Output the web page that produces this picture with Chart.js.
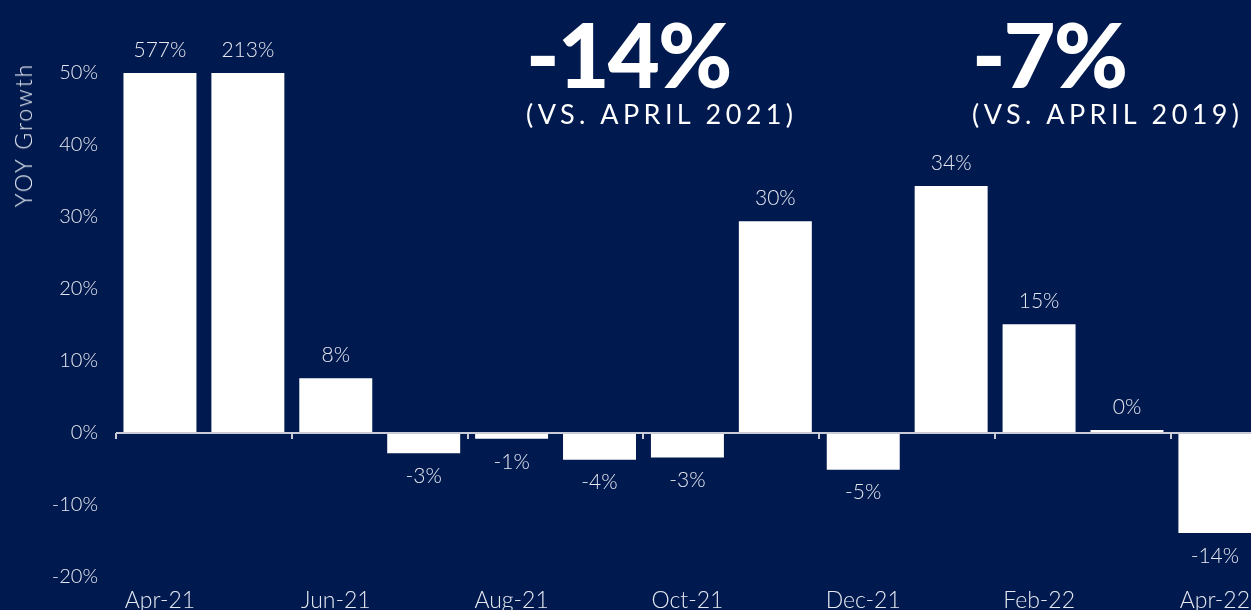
<!DOCTYPE html>
<html>
<head>
<meta charset="utf-8">
<script src="https://cdn.jsdelivr.net/npm/chart.js@4.4.1/dist/chart.umd.min.js"></script>
<style>
  html, body { margin: 0; padding: 0; background: #001a50; overflow: hidden; width: 1251px; height: 610px; }
  #wrap { position: absolute; left: 0; top: 0; width: 1260px; height: 610px; }
  .big { position: absolute; color: #ffffff; font-family: Lato, sans-serif; font-weight: 900; font-size: 90px; line-height: 1; white-space: nowrap; letter-spacing: -2px; }
  .sub { position: absolute; color: #ffffff; font-family: Lato, sans-serif; font-weight: 400; font-size: 27px; line-height: 1; letter-spacing: 4.4px; white-space: nowrap; }
  #ytitle { position: absolute; left: 23px; top: 135px; transform: translate(-50%, -50%) rotate(-90deg); color: #e6e8ef; font-family: Lato, sans-serif; font-weight: 300; font-size: 23px; letter-spacing: 2px; white-space: nowrap; }
</style>
</head>
<body>
<div id="wrap"><canvas id="c"></canvas></div>
<div id="ytitle"></div>
<div class="big" id="h1v" style="left:526px; top:8px;"></div>
<div class="sub" id="h1n" style="left:526px; top:100px;"></div>
<div class="big" id="h2v" style="left:972px; top:8px;"></div>
<div class="sub" id="h2n" style="left:972px; top:100px;"></div>
<script>
// ---- data ----
const categories = ['Apr-21','May-21','Jun-21','Jul-21','Aug-21','Sep-21','Oct-21','Nov-21','Dec-21','Jan-22','Feb-22','Mar-22','Apr-22'];
const growth = [577, 213, 7.6, -2.8, -0.8, -3.7, -3.4, 29.4, -5.1, 34.3, 15.1, 0.4, -13.9];
const growthLabels = ['577%','213%','8%','-3%','-1%','-4%','-3%','30%','-5%','34%','15%','0%','-14%'];
const yMin = -20;
const yMax = 50;
const yStep = 10;
const yAxisTitle = 'YOY Growth';
const headlineValues = ['-14%', '-7%'];
const headlineNotes = ['(VS. APRIL 2021)', '(VS. APRIL 2019)'];

document.getElementById('ytitle').textContent = yAxisTitle;
document.getElementById('h1v').textContent = headlineValues[0];
document.getElementById('h1n').textContent = headlineNotes[0];
document.getElementById('h2v').textContent = headlineValues[1];
document.getElementById('h2n').textContent = headlineNotes[1];

const textColor = '#e6e8ef';
const axisColor = '#c9ccd6';
const FONT = 'Lato';

// zero line with tick marks at the left edge of every labelled category
const zeroAxis = {
  id: 'zeroAxis',
  afterDatasetsDraw(chart) {
    const { ctx, chartArea, scales } = chart;
    const xs = scales.x, ys = scales.y;
    const y0 = Math.round(ys.getPixelForValue(0));
    const half = (xs.getPixelForValue(1) - xs.getPixelForValue(0)) / 2;
    ctx.save();
    ctx.strokeStyle = axisColor;
    ctx.lineWidth = 2;
    ctx.beginPath();
    ctx.moveTo(chartArea.left, y0);
    ctx.lineTo(chartArea.right, y0);
    for (let i = 0; i < categories.length; i += 2) {
      const x = Math.round(xs.getPixelForValue(i) - half);
      ctx.moveTo(x, y0);
      ctx.lineTo(x, y0 + 6);
    }
    ctx.stroke();
    ctx.restore();
  }
};

const valueLabels = {
  id: 'valueLabels',
  afterDatasetsDraw(chart) {
    const { ctx, chartArea } = chart;
    const meta = chart.getDatasetMeta(0);
    ctx.save();
    ctx.font = '300 21px ' + FONT;
    ctx.fillStyle = textColor;
    ctx.textAlign = 'center';
    ctx.textBaseline = 'middle';
    meta.data.forEach((bar, i) => {
      const v = growth[i];
      let y;
      if (v >= 0) y = Math.max(bar.y, chartArea.top) - 23;
      else y = Math.min(bar.y, chartArea.bottom) + 23;
      ctx.fillText(growthLabels[i], bar.x, y);
    });
    ctx.restore();
  }
};

new Chart(document.getElementById('c'), {
  type: 'bar',
  data: {
    labels: categories,
    datasets: [{
      data: growth,
      backgroundColor: '#ffffff',
      borderWidth: 0,
      barPercentage: 0.83,
      categoryPercentage: 1.0,
      clip: 0
    }]
  },
  options: {
    responsive: true,
    maintainAspectRatio: false,
    animation: false,
    layout: { padding: { top: 73, bottom: 0, left: 0, right: 0 } },
    plugins: { legend: { display: false }, tooltip: { enabled: false } },
    scales: {
      x: {
        position: 'bottom',
        offset: true,
        afterFit: (s) => { s.height = 33; },
        grid: { display: false, drawTicks: false },
        border: { display: false },
        ticks: {
          autoSkip: false,
          maxRotation: 0,
          padding: 10,
          color: textColor,
          font: { family: FONT, size: 23, weight: '300' },
          callback: function (v, i) { return i % 2 === 0 ? this.getLabelForValue(v) : ''; }
        }
      },
      y: {
        min: yMin,
        max: yMax,
        afterFit: (s) => { s.width = 116; },
        grid: { display: false, drawTicks: false },
        border: { display: false },
        ticks: {
          stepSize: yStep,
          padding: 18,
          color: textColor,
          font: { family: FONT, size: 20, weight: '300' },
          callback: (v) => v + '%'
        }
      }
    }
  },
  plugins: [zeroAxis, valueLabels]
});
</script>
</body>
</html>
